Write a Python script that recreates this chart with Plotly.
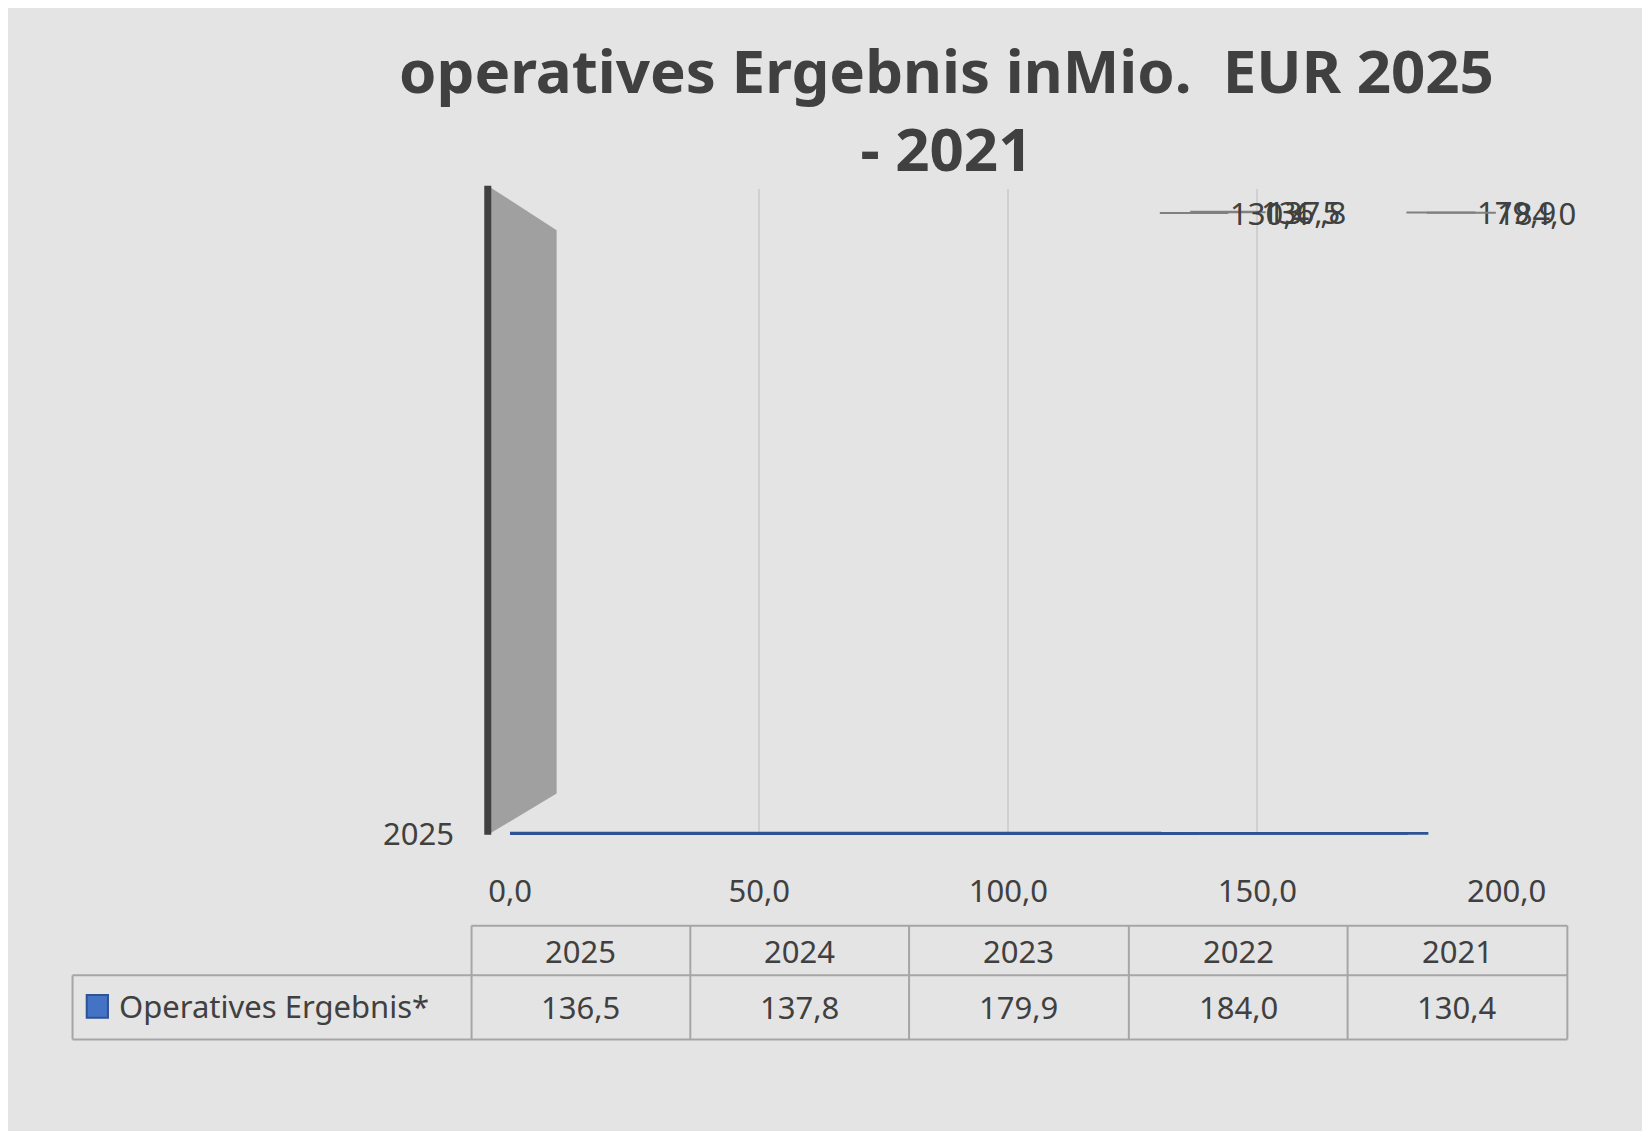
import plotly.graph_objects as go

years = ["2025", "2024", "2023", "2022", "2021"]
values = [136.5, 137.8, 179.9, 184.0, 130.4]
series_name = "Operatives Ergebnis*"
title = "operatives Ergebnis inMio.  EUR 2025<br>- 2021"

W, H = 1568, 1075
def px(x): return x / W
def py(y): return 1 - y / H

fmt = lambda v: f"{v:.1f}".replace(".", ",")
font = "Noto Sans"
colors = ["#5A84CC", "#5F8AD2", "#6690D8", "#6D98E0", "#80A8EE"]

fig = go.Figure(go.Bar(
    y=years, x=values, orientation="h", width=0.62,
    marker=dict(color=colors, line=dict(color="#2E5395", width=3)),
    hoverinfo="skip"))

ann = []
for y, v in zip(years, values):
    ann.append(dict(x=v, y=y, xref="x", yref="y", text=fmt(v), showarrow=True,
                    arrowhead=0, arrowwidth=2, arrowcolor="#808080", ax=110, ay=0,
                    xanchor="center", yanchor="middle",
                    font=dict(size=31, color="#404040", family=font)))

ann.append(dict(x=px(905), y=py(18), xref="paper", yref="paper", text="<b>" + title + "</b>",
                showarrow=False, xanchor="center", yanchor="top",
                font=dict(size=60, color="#404040", family=font)))

cols = [436, 652, 868, 1085, 1301, 1518]
shapes = []
lc = dict(color="#A6A6A6", width=2)
for yy in [888, 936, 998]:
    x0 = 42 if yy != 888 else 436
    shapes.append(dict(type="line", xref="paper", yref="paper", x0=px(x0), x1=px(1518), y0=py(yy), y1=py(yy), line=lc))
for xx in cols:
    shapes.append(dict(type="line", xref="paper", yref="paper", x0=px(xx), x1=px(xx), y0=py(888), y1=py(998), line=lc))
shapes.append(dict(type="line", xref="paper", yref="paper", x0=px(42), x1=px(42), y0=py(936), y1=py(998), line=lc))
for i in range(5):
    cx = px((cols[i] + cols[i + 1]) / 2)
    ann.append(dict(x=cx, y=py(912), xref="paper", yref="paper", text=years[i], showarrow=False,
                    xanchor="center", yanchor="middle",
                    font=dict(size=31, color="#404040", family=font)))
    ann.append(dict(x=cx, y=py(967), xref="paper", yref="paper", text=fmt(values[i]), showarrow=False,
                    xanchor="center", yanchor="middle",
                    font=dict(size=31, color="#404040", family=font)))
shapes.append(dict(type="rect", xref="paper", yref="paper", x0=px(56), x1=px(77), y0=py(955), y1=py(977),
                   fillcolor="#4472C4", line=dict(color="#2E5395", width=2)))
ann.append(dict(x=px(86), y=py(966), xref="paper", yref="paper", xanchor="left", yanchor="middle",
                text=series_name, showarrow=False, font=dict(size=31, color="#404040", family=font)))

shapes.append(dict(type="path", xref="paper", yref="paper",
                   path=f"M {px(452)},{py(172)} L {px(520)},{py(215)} L {px(520)},{py(760)} L {px(452)},{py(800)} Z",
                   fillcolor="#A0A0A0", line=dict(width=0), layer="below"))
shapes.append(dict(type="line", xref="paper", yref="paper", x0=px(452), x1=px(452), y0=py(172), y1=py(800),
                   line=dict(color="#404040", width=7)))

fig.update_layout(
    width=1650, height=1131, margin=dict(l=0, r=0, t=0, b=0),
    paper_bgcolor="#E4E4E4", plot_bgcolor="rgba(0,0,0,0)",
    separators=",.", showlegend=False,
    xaxis=dict(domain=[px(474), px(1458)], range=[0, 200], dtick=50, tickformat=".1f",
               showgrid=True, gridcolor="#D0D0D0", gridwidth=2, zeroline=False,
               tickfont=dict(size=31, color="#404040", family=font), ticklabelstandoff=35),
    yaxis=dict(type="category", domain=[py(800), py(175)], categoryorder="array", categoryarray=years,
               tickfont=dict(size=31, color="#404040", family=font), ticklabelstandoff=55,
               showgrid=False),
    annotations=ann, shapes=shapes)

fig.write_html("out.html")
